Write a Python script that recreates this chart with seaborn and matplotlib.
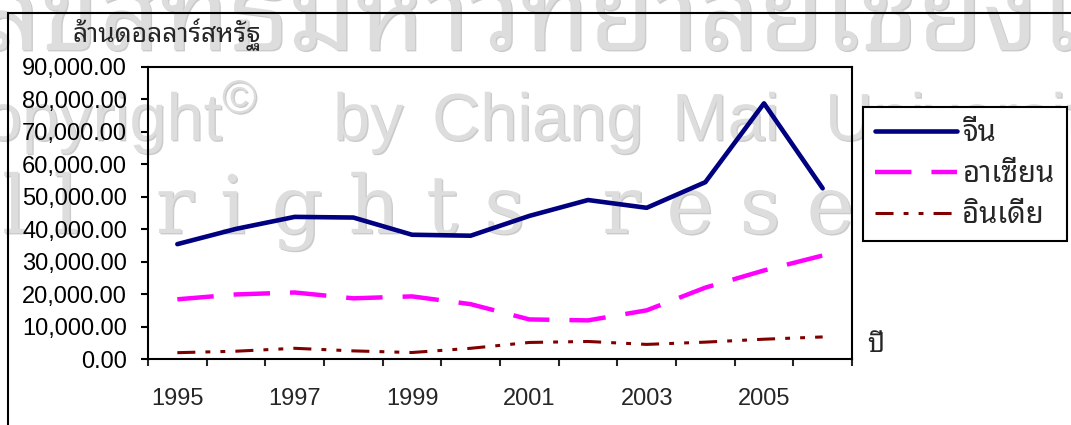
import numpy as np
import pandas as pd
import matplotlib
matplotlib.use("Agg")
import matplotlib.pyplot as plt
import matplotlib.patheffects as pe
from matplotlib.patches import Rectangle
from matplotlib.ticker import FixedLocator, FuncFormatter
import seaborn as sns

# values (million US$)
years = [1995, 1996, 1997, 1998, 1999, 2000, 2001, 2002, 2003, 2004, 2005, 2006]
china = [35400, 40100, 43800, 43600, 38300, 38000, 44100, 49000, 46600, 54500, 78800, 52600]
asean = [18400, 19900, 20500, 18700, 19300, 16900, 12200, 11900, 15000, 22000, 27300, 31900]
india = [1950, 2400, 3300, 2500, 2000, 3300, 5100, 5400, 4500, 5200, 6100, 6800]

series_names  = ["จีน", "อาเซียน", "อินเดีย"]
series_colors = ["#000080", "#FF00FF", "#800000"]
y_ticks       = [0, 10000, 20000, 30000, 40000, 50000, 60000, 70000, 80000, 90000]
year_labels   = [1995, 1997, 1999, 2001, 2003, 2005]

y_title = "ล้านดอลลาร์สหรัฐ"
x_title = "ปี"

df = pd.DataFrame({"year": years, "จีน": china, "อาเซียน": asean, "อินเดีย": india})

sns.set_style("white")
plt.rcParams["font.family"] = ["Liberation Sans", "Noto Sans Thai Looped", "DejaVu Sans"]

W, H = 1071, 425
fig = plt.figure(figsize=(W / 100, H / 100), dpi=100)
ax  = fig.add_axes([148 / W, 1 - 359 / H, (852 - 148) / W, (359 - 67) / H])
ax.patch.set_visible(False)


def px(x, y):
    # pixel position (from top-left) -> figure fraction
    return x / W, 1 - y / H


# faint watermark behind the chart
wm     = "#dddddd"
shadow = [pe.SimplePatchShadow(offset=(1, -1), shadow_rgbFace="#cbcbcb", alpha=1), pe.Normal()]
wm_kw  = dict(color=wm, va="baseline", zorder=-5, path_effects=shadow)

fig.text(*px(-20, 50), "ลิขสิทธิ์มหาวิทยาลัยเชียงใหม่", fontsize=76,
         family=["Noto Sans Thai Looped"], weight="bold", **wm_kw)
fig.text(*px(222, 140), "Copyright", fontsize=48, ha="right", **wm_kw)
fig.text(*px(222, 113), "©", fontsize=34, **wm_kw)
for word, x0 in [("by", 333), ("Chiang", 432), ("Mai", 672), ("University", 825)]:
    fig.text(*px(x0, 140), word, fontsize=48, **wm_kw)
fig.text(*px(-82, 233), "A l l   r i g h t s   r e s e r v e d", fontsize=58,
         family=["DejaVu Serif"], **wm_kw)

# outer chart frame (cropped in the reference)
fig.add_artist(Rectangle(px(8, 500), 1.3, (500 - 13) / H, transform=fig.transFigure,
                         fill=False, edgecolor="black", linewidth=1.5, zorder=1))

line_styles = {
    "จีน":     dict(linewidth=3.3, linestyle="-"),
    "อาเซียน": dict(linewidth=3.2, linestyle=(0, (8.2, 4.5))),
    "อินเดีย": dict(linewidth=2.2, linestyle=(0, (5.9, 3.3, 1.6, 3.3, 1.6, 3.3))),
}
for name, color in zip(series_names, series_colors):
    sns.lineplot(data=df, x="year", y=name, color=color, label=name, ax=ax,
                 **line_styles[name])

ax.set_xlim(years[0] - 0.5, years[-1] + 0.5)
ax.set_ylim(y_ticks[0], y_ticks[-1])
ax.set_xlabel("")
ax.set_ylabel("")

for side in ["left", "bottom", "top", "right"]:
    ax.spines[side].set_visible(True)
    ax.spines[side].set_color("black")
    ax.spines[side].set_linewidth(1.5)

ax.yaxis.set_major_locator(FixedLocator(y_ticks))
ax.yaxis.set_major_formatter(FuncFormatter(lambda v, p: f"{v:,.2f}"))
ax.tick_params(axis="y", direction="out", length=5, width=1.5, pad=10,
               labelsize=17, left=True, colors="black")

# category-style x axis: ticks between years, labels every second year
ax.xaxis.set_major_locator(FixedLocator([y - 0.5 for y in years] + [years[-1] + 0.5]))
ax.xaxis.set_major_formatter(FuncFormatter(lambda v, p: ""))
ax.xaxis.set_minor_locator(FixedLocator(year_labels))
ax.xaxis.set_minor_formatter(FuncFormatter(lambda v, p: f"{int(v)}"))
ax.tick_params(axis="x", which="major", direction="out", length=5, width=1.5, bottom=True)
ax.tick_params(axis="x", which="minor", length=0, pad=21, labelsize=17, bottom=True)

handles, labels = ax.get_legend_handles_labels()
leg = ax.legend(handles, labels, loc="upper left", bbox_to_anchor=px(863, 107),
                bbox_transform=fig.transFigure, frameon=True, fancybox=False,
                edgecolor="black", framealpha=1, fontsize=21, handlelength=2.8,
                handletextpad=0.2, labelspacing=0.44, borderpad=0.42, borderaxespad=0)
leg.get_frame().set_linewidth(1.5)

fig.text(*px(72, 35), y_title, fontsize=19, va="center", ha="left")
fig.text(*px(867, 345), x_title, fontsize=19, weight="bold", va="center", ha="left")

fig.savefig("out.png", dpi=100)
